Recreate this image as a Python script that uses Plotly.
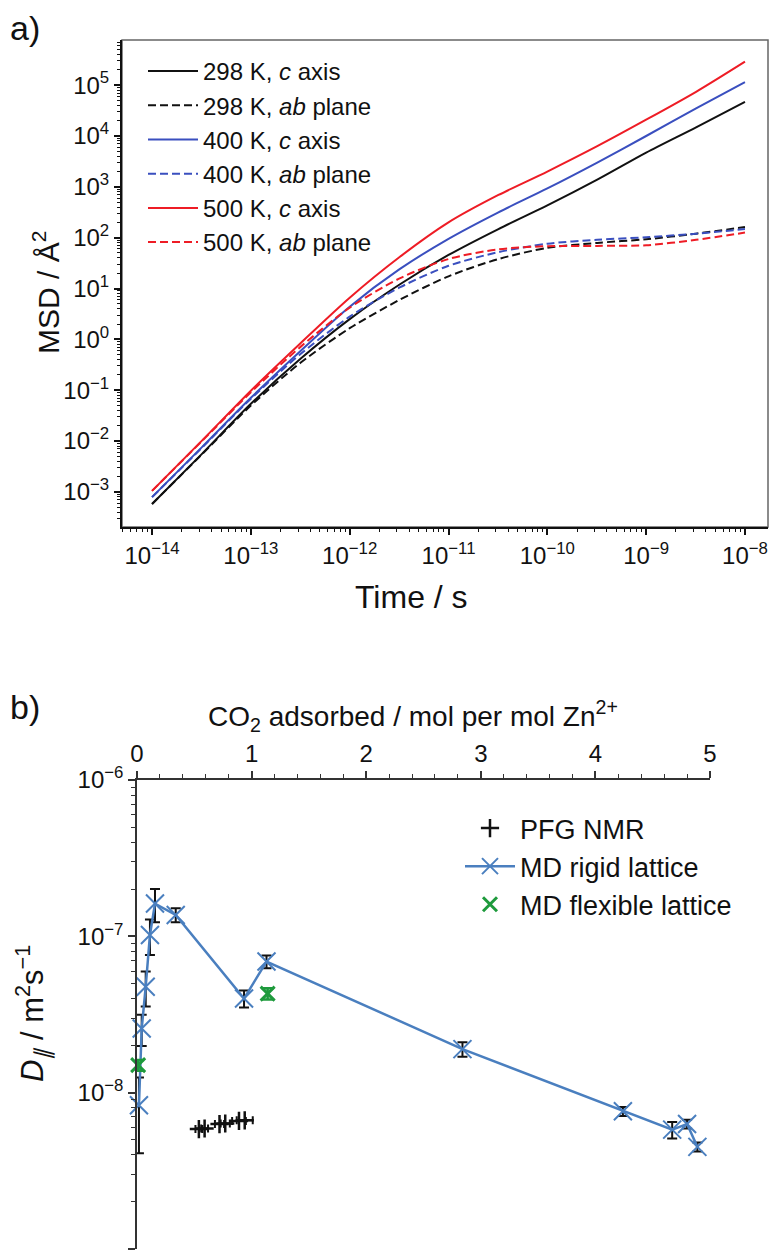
import plotly.graph_objects as go

FONT = "Liberation Sans, Arial, Helvetica, sans-serif"
W, H = 770, 1260

# ---------------- Panel a data: MSD vs time ----------------
time_s = [1e-14, 3.2e-14, 1e-13, 3.2e-13, 1e-12, 3.2e-12, 1e-11,
          3.2e-11, 1e-10, 3.2e-10, 1e-9, 3.2e-9, 1e-8]
msd_298_c = [5.8e-4, 5.6e-3, 5.4e-2, 0.42, 2.5, 12.0, 45.7, 148, 430, 1380, 4700, 1.48e4, 4.7e4]
msd_298_ab = [5.8e-4, 5.5e-3, 5.0e-2, 0.35, 1.66, 6.0, 17.4, 38, 63, 79, 93, 120, 162]
msd_400_c = [7.9e-4, 7.6e-3, 7.1e-2, 0.60, 4.4, 24, 95, 316, 930, 3000, 1.0e4, 3.5e4, 1.15e5]
msd_400_ab = [7.9e-4, 7.4e-3, 6.8e-2, 0.52, 2.8, 10.5, 28, 52, 76, 91, 102, 120, 148]
msd_500_c = [1.05e-3, 1.02e-2, 9.8e-2, 0.85, 6.6, 41.7, 200, 692, 2000, 6300, 2.09e4, 7.4e4, 2.9e5]
msd_500_ab = [1.05e-3, 1.0e-2, 9.1e-2, 0.72, 4.2, 15.8, 38, 59, 68, 69, 71, 91, 126]

series_names_a = ["298 K, <i>c</i> axis", "298 K, <i>ab</i> plane",
                  "400 K, <i>c</i> axis", "400 K, <i>ab</i> plane",
                  "500 K, <i>c</i> axis", "500 K, <i>ab</i> plane"]

x_ticks_a = [1e-14, 1e-13, 1e-12, 1e-11, 1e-10, 1e-9, 1e-8]
x_ticktext_a = ["10<sup>−14</sup>", "10<sup>−13</sup>", "10<sup>−12</sup>", "10<sup>−11</sup>",
                "10<sup>−10</sup>", "10<sup>−9</sup>", "10<sup>−8</sup>"]
y_ticks_a = [1e-3, 1e-2, 1e-1, 1e0, 1e1, 1e2, 1e3, 1e4, 1e5]
y_ticktext_a = ["10<sup>−3</sup>", "10<sup>−2</sup>", "10<sup>−1</sup>", "10<sup>0</sup>",
                "10<sup>1</sup>", "10<sup>2</sup>", "10<sup>3</sup>", "10<sup>4</sup>", "10<sup>5</sup>"]

# ---------------- Panel b data: diffusivity vs loading ----------------
pfg_loading = [0.54, 0.59, 0.72, 0.77, 0.89, 0.94]
pfg_d = [5.85e-9, 5.9e-9, 6.3e-9, 6.35e-9, 6.6e-9, 6.65e-9]
pfg_loading_err = [0.03, 0.03, 0.04, 0.04, 0.06, 0.07]

rigid_loading = [0.017, 0.041, 0.076, 0.113, 0.157, 0.338, 0.934, 1.13, 2.84, 4.24, 4.67, 4.80, 4.89]
rigid_d = [8.3e-9, 2.57e-8, 4.76e-8, 1.02e-7, 1.62e-7, 1.37e-7, 4.0e-8, 6.9e-8, 1.9e-8,
           7.6e-9, 5.8e-9, 6.3e-9, 4.5e-9]
rigid_d_err = [4.2e-9, 5.8e-9, 1.2e-8, 2.6e-8, 3.9e-8, 1.4e-8, 5e-9, 6.5e-9, 2e-9,
               5e-10, 7e-10, 4e-10, 3e-10]

flex_loading = [0.01, 1.14]
flex_d = [1.5e-8, 4.3e-8]
flex_d_err = [1.2e-9, 3.5e-9]

x_ticks_b = [0, 1, 2, 3, 4, 5]
y_ticks_b = [1e-9, 1e-8, 1e-7, 1e-6]
y_ticktext_b = ["10<sup>−9</sup>", "10<sup>−8</sup>", "10<sup>−7</sup>", "10<sup>−6</sup>"]

# ---------------- styles ----------------
BLACK = "#111111"
BLUE_A = "#3a4fbf"
RED_A = "#ee1c25"
DASH = "8px,4px"
STEEL = "#4a7fbf"
GREEN = "#1e9a3c"

series_vals_a = [msd_298_c, msd_298_ab, msd_400_c, msd_400_ab, msd_500_c, msd_500_ab]
series_colors_a = [BLACK, BLACK, BLUE_A, BLUE_A, RED_A, RED_A]
series_dash_a = ["solid", DASH, "solid", DASH, "solid", DASH]

fig = go.Figure()

for name, vals, col, dash in zip(series_names_a, series_vals_a, series_colors_a, series_dash_a):
    fig.add_trace(go.Scatter(
        x=time_s, y=vals, mode="lines", name=name,
        line=dict(color=col, width=2, dash=dash, shape="spline", smoothing=0.8),
        xaxis="x", yaxis="y", legend="legend"))

fig.add_trace(go.Scatter(
    x=pfg_loading, y=pfg_d, mode="markers", name="PFG NMR",
    marker=dict(symbol="cross-thin-open", size=13, color=BLACK, line=dict(color=BLACK, width=2.5)),
    error_x=dict(type="data", array=pfg_loading_err, color=BLACK, thickness=2, width=4),
    xaxis="x2", yaxis="y2", legend="legend2", cliponaxis=False))

fig.add_trace(go.Scatter(
    x=rigid_loading, y=rigid_d, mode="lines+markers", name="MD rigid lattice",
    line=dict(color=STEEL, width=2.5),
    marker=dict(symbol="x-thin-open", size=18, color=STEEL, line=dict(color=STEEL, width=2)),
    error_y=dict(type="data", array=rigid_d_err, color=BLACK, thickness=2, width=5),
    xaxis="x2", yaxis="y2", legend="legend2", cliponaxis=False))

fig.add_trace(go.Scatter(
    x=flex_loading, y=flex_d, mode="markers", name="MD flexible lattice",
    marker=dict(symbol="x-thin-open", size=14, color=GREEN, line=dict(color=GREEN, width=3)),
    error_y=dict(type="data", array=flex_d_err, color=GREEN, thickness=2.5, width=6),
    xaxis="x2", yaxis="y2", legend="legend2", cliponaxis=False))

tickfont = dict(family=FONT, size=24, color=BLACK)

common = dict(showgrid=False, zeroline=False, automargin=False)

fig.update_layout(
    width=W, height=H,
    margin=dict(l=0, r=0, t=0, b=0, autoexpand=False),
    paper_bgcolor="white", plot_bgcolor="white",
    font=dict(family=FONT, color=BLACK),
    xaxis=dict(domain=[122 / W, 768 / W], anchor="y", type="log", range=[-14.304, -7.767],
               tickmode="array", tickvals=x_ticks_a, ticktext=x_ticktext_a,
               ticks="outside", ticklen=6, tickwidth=1.5, tickcolor=BLACK,
               showline=True, linecolor=BLACK, linewidth=2, tickfont=tickfont,
               minor=dict(ticks="outside", ticklen=3, tickwidth=1, tickcolor=BLACK, dtick="D1", showgrid=False),
               **common),
    yaxis=dict(domain=[1 - 527 / H, 1 - 40 / H], anchor="x", type="log", range=[-3.69, 5.888],
               tickmode="array", tickvals=y_ticks_a, ticktext=y_ticktext_a,
               ticks="outside", ticklen=6, tickwidth=1.5, tickcolor=BLACK,
               showline=True, linecolor=BLACK, linewidth=2, tickfont=tickfont,
               minor=dict(ticks="outside", ticklen=3, tickwidth=1, tickcolor=BLACK, dtick="D1", showgrid=False),
               **common),
    xaxis2=dict(domain=[137 / W, 710 / W], anchor="y2", side="top", range=[0, 5],
                tickmode="array", tickvals=x_ticks_b,
                ticks="outside", ticklen=7, tickwidth=1.5, tickcolor="#333",
                showline=True, linecolor="#333", linewidth=1.5, tickfont=tickfont,
                minor=dict(ticks="outside", ticklen=4, tickwidth=1, tickcolor="#333", dtick=0.2, showgrid=False),
                **common),
    yaxis2=dict(domain=[1 - 1249 / H, 1 - 780 / H], anchor="x2", type="log", range=[-9, -6],
                tickmode="array", tickvals=y_ticks_b, ticktext=y_ticktext_b,
                ticks="outside", ticklen=7, tickwidth=1.5, tickcolor="#333",
                showline=True, linecolor="#333", linewidth=1.5, tickfont=tickfont,
                minor=dict(ticks="outside", ticklen=4, tickwidth=1, tickcolor="#333", dtick="D1", showgrid=False),
                **common),
    legend=dict(x=143 / W, y=1 - 49 / H, xanchor="left", yanchor="top",
                font=dict(family=FONT, size=24, color=BLACK), itemwidth=50,
                bgcolor="rgba(0,0,0,0)", borderwidth=0, tracegroupgap=0),
    legend2=dict(x=460 / W, y=1 - 804 / H, xanchor="left", yanchor="top",
                 font=dict(family=FONT, size=27, color=BLACK), itemwidth=50,
                 bgcolor="rgba(0,0,0,0)", borderwidth=0, tracegroupgap=0),
    showlegend=True,
)

# frame of panel a (top/right thin grey)
fig.add_shape(type="rect", xref="x domain", yref="y domain", x0=0, x1=1, y0=0, y1=1,
              line=dict(color="#666", width=1.5), layer="below")

def ann(text, xc, yc, size, angle=0):
    fig.add_annotation(text=text, x=xc / W, y=1 - yc / H, xref="paper", yref="paper",
                       xanchor="center", yanchor="middle", showarrow=False, textangle=angle,
                       font=dict(family=FONT, size=size, color=BLACK))

ann("a)", 25, 28, 34)
ann("b)", 25, 707, 34)
ann("MSD / Å<sup>2</sup>", 46, 293, 30, -90)
ann("Time / s", 412, 597, 32)
ann("CO<sub>2</sub> adsorbed / mol per mol Zn<sup>2+</sup>", 413, 716, 28)
ann("<i>D</i><sub><i>∥</i></sub> / m<sup>2</sup>s<sup>−1</sup>", 32, 1014, 31, -90)

fig.write_html("out.html",
               config={"displayModeBar": False},
               post_script="document.body.style.margin='0';document.body.style.overflow='hidden';")
